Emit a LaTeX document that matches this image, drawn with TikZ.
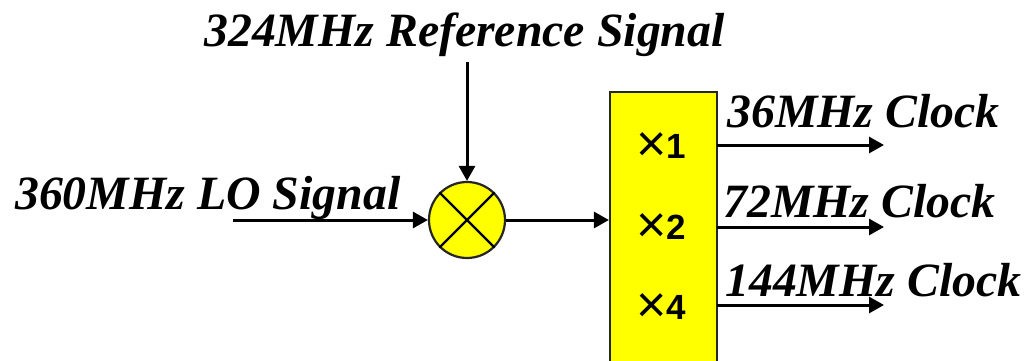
\documentclass[tikz,border=0pt]{standalone}
\usepackage{fontspec}
\setmainfont{Liberation Serif}
\newfontfamily\sansf{Liberation Sans}
\usetikzlibrary{arrows.meta}
\definecolor{yel0}{RGB}{255,255,0}
\newcommand{\crossmark}{\raisebox{-3.5pt}{\fontsize{52}{52}\selectfont\mdseries ×}}
\tikzset{
  lab/.style={inner sep=0pt,anchor=base west,font=\fontsize{47.8}{48}\selectfont\bfseries\itshape},
  wire/.style={draw=black,line width=3pt,-{Triangle[length=15pt,width=16pt]}},
  mult/.style={inner sep=0pt,anchor=base west,font=\fontsize{35}{35}\selectfont\sansf\bfseries},
  yel/.style={draw=black!85,line width=2.2pt,fill=yel0}
}
\begin{document}
\begin{tikzpicture}[x=1pt,y=-1pt]
\useasboundingbox (0,0) rectangle (1029,361);
\clip (0,0) rectangle (1029,361);
\node[yel,inner sep=0pt,minimum width=107pt,minimum height=300pt] (box) at (663.5,242) {};
\node[yel,circle,inner sep=0pt,minimum size=76pt] (mix) at (467,220) {};
\draw[line width=2.4pt] (mix.45) -- (mix.225) (mix.135) -- (mix.315);
\node[lab] (ref) at (204,47) {324MHz Reference Signal};
\node[lab] (lo) at (15,209) {360MHz LO Signal};
\node[lab] (c36) at (727,127.5) {36MHz Clock};
\node[lab] (c72) at (723,217.5) {72MHz Clock};
\node[lab] (c144) at (725,296.5) {144MHz Clock};
\node[mult] (m1) at (636,158) {\crossmark 1};
\node[mult] (m2) at (636,239) {\crossmark 2};
\node[mult] (m4) at (636,319) {\crossmark 4};
\coordinate (refs) at (467,62);
\coordinate (los) at (233,220);
\coordinate (o1s) at (717,145);
\coordinate (o2s) at (717,227);
\coordinate (o3s) at (717,305);
\coordinate (o1) at (884,145);
\coordinate (o2) at (884,227);
\coordinate (o3) at (884,305);
\draw[wire] (refs) -- (mix.north);
\draw[wire] (los) -- (mix.west);
\draw[wire] (mix.east) -- (mix.east -| box.west);
\draw[wire] (o1s) -- (o1);
\draw[wire] (o2s) -- (o2);
\draw[wire] (o3s) -- (o3);
\end{tikzpicture}
\end{document}
